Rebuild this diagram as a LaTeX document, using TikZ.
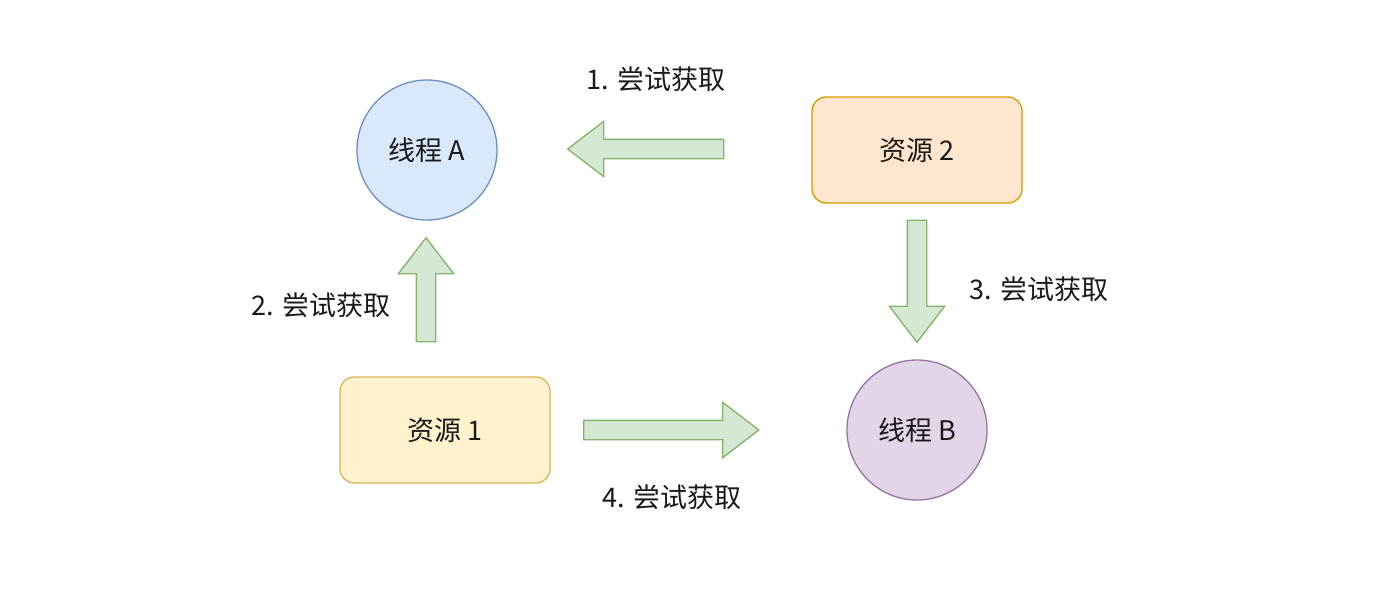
\documentclass[tikz,border=0pt]{standalone}
\usepackage{fontspec}
\newfontfamily\cjk{Noto Sans CJK SC}
\usetikzlibrary{shapes.arrows}
\definecolor{blueF}{HTML}{DAE8FC}\definecolor{blueD}{HTML}{6C8EBF}
\definecolor{purF}{HTML}{E1D5E7}\definecolor{purD}{HTML}{9673A6}
\definecolor{yelF}{HTML}{FFF2CC}\definecolor{yelD}{HTML}{D6B656}
\definecolor{orgF}{HTML}{FFE6CC}\definecolor{orgD}{HTML}{D79B00}
\definecolor{grnF}{HTML}{D5E8D4}\definecolor{grnD}{HTML}{82B366}
\definecolor{txt}{HTML}{1A1A1A}
\tikzset{
  base/.style={line width=1.3pt, text=txt, font=\cjk\fontsize{27}{31}\selectfont},
  thread/.style={base, circle, minimum size=140pt, inner sep=0pt},
  res/.style={base, rectangle, rounded corners=14pt, minimum width=210pt, minimum height=106pt, inner sep=0pt},
  lbl/.style={text=txt, font=\cjk\fontsize{27}{31}\selectfont, inner sep=0pt},
  flex/.style={single arrow, draw=grnD, fill=grnF, line width=1.3pt, inner xsep=0pt, inner ysep=9pt,
    single arrow head extend=18pt, single arrow tip angle=75,
    single arrow head indent=0pt}
}
\begin{document}
\begin{tikzpicture}[x=1pt,y=-1pt]
\useasboundingbox[fill=white] (0,0) rectangle (1380,594);
\node[thread, draw=blueD, fill=blueF] (ta) at (427,150) {线程 A};
\node[thread, draw=purD, fill=purF] (tb) at (917,430) {线程 B};
\node[res, draw=orgD, fill=orgF] (r2) at (917,150) {资源 2};
\node[res, draw=yelD, fill=yelF] (r1) at (445,430) {资源 1};
\node[flex, minimum height=156pt, rotate=180] (a1) at (652,149) {};
\node[flex, minimum height=104pt, rotate=90] (a2) at (426,296) {};
\node[flex, minimum height=122pt, rotate=-90] (a3) at (917,275) {};
\node[flex, minimum height=175pt] (a4) at (665,430) {};
\node[lbl] (l1) at (656,79) {1. 尝试获取};
\node[lbl] (l2) at (321,305) {2. 尝试获取};
\node[lbl] (l3) at (1039,289) {3. 尝试获取};
\node[lbl] (l4) at (672,497) {4. 尝试获取};
\end{tikzpicture}
\end{document}
